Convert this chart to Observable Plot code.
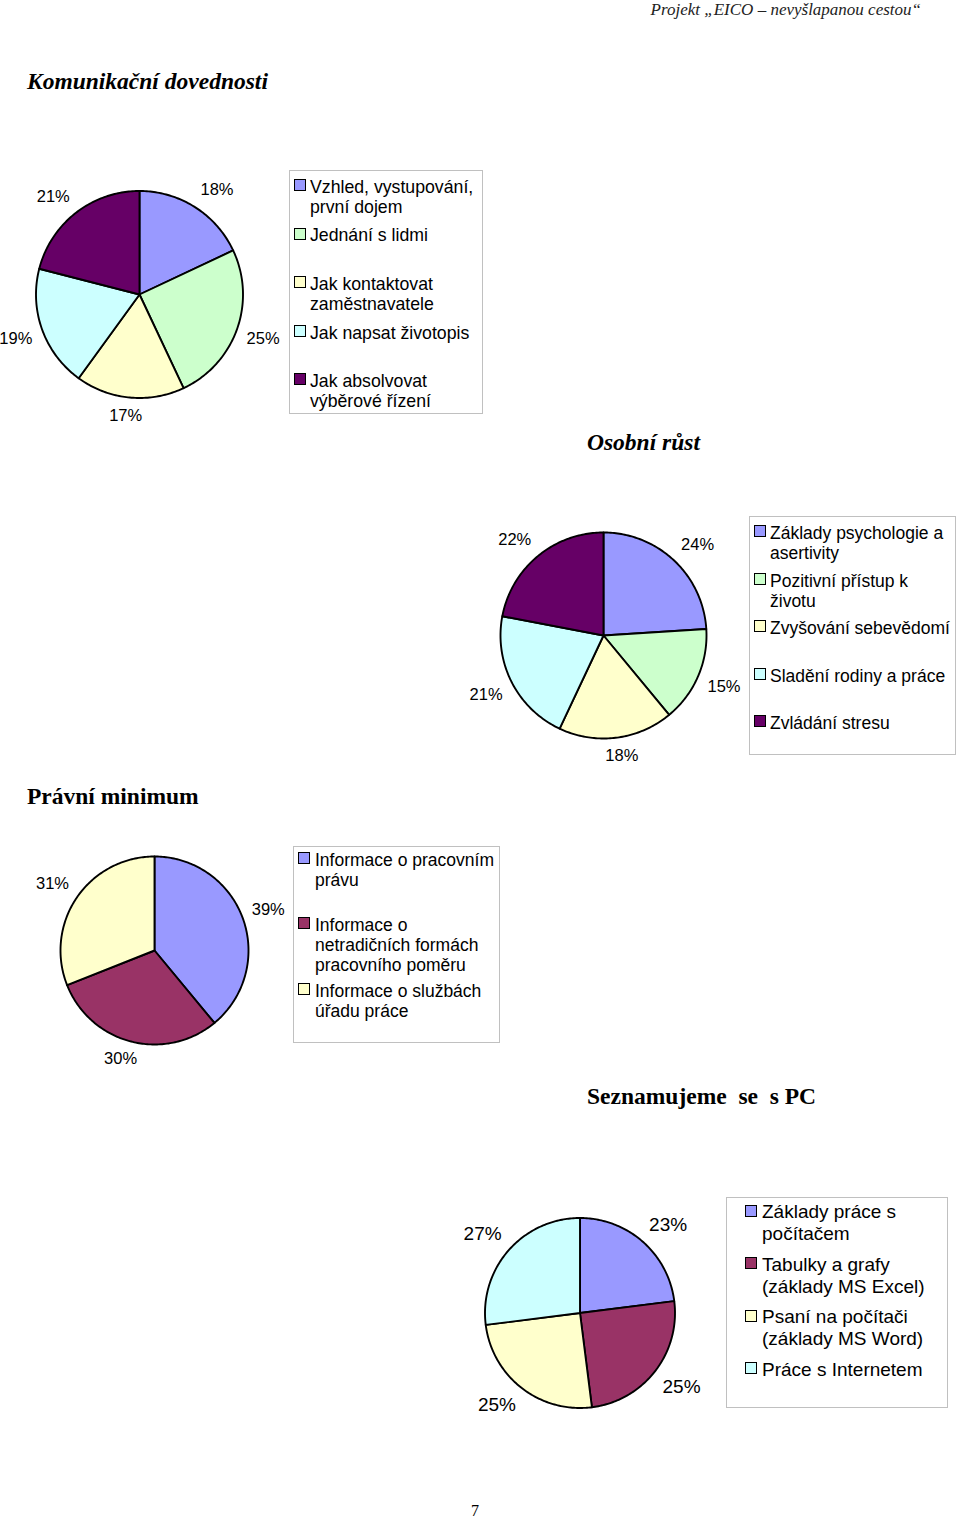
<!DOCTYPE html>
<html><head><meta charset="utf-8">
<script src="https://cdn.jsdelivr.net/npm/d3@7"></script>
<script src="https://cdn.jsdelivr.net/npm/@observablehq/plot@0.6"></script>
<style>
html,body{margin:0;padding:0;background:#fff;}
#page{position:relative;width:960px;height:1518px;overflow:hidden;background:#fff;}
.abs{position:absolute;white-space:pre;line-height:1;}
.serif{font-family:"Liberation Serif","Times New Roman",serif;}
.sans{font-family:"Liberation Sans",Arial,sans-serif;}
.lbox{position:absolute;border:1px solid #c0c0c0;box-sizing:border-box;background:#fff;}
.mk{position:absolute;width:10px;height:10px;border:1.5px solid #000;}
.lt{position:absolute;white-space:pre;font-family:"Liberation Sans",Arial,sans-serif;color:#000;}
</style></head><body><div id="page"></div>
<script>
// Colours (Excel default pie palette)
const BLUE = "#9999FF", GREEN = "#CCFFCC", YELLOW = "#FFFFCC", CYAN = "#CCFFFF", PURPLE = "#660066", MAROON = "#993366";

// Page texts
const headerText = "Projekt \u201EEICO \u2013 nevyšlapanou cestou\u201C";
const pageNumber = "7";

// Chart 1 – Komunikační dovednosti
const komTitle = "Komunikační dovednosti";
const komLabels = ["Vzhled, vystupování,\nprvní dojem", "Jednání s lidmi", "Jak kontaktovat\nzaměstnavatele", "Jak napsat životopis", "Jak absolvovat\nvýběrové řízení"];
const komValues = [18, 25, 17, 19, 21];
const komColors = [BLUE, GREEN, YELLOW, CYAN, PURPLE];

// Chart 2 – Osobní růst
const osoTitle = "Osobní růst";
const osoLabels = ["Základy psychologie a\nasertivity", "Pozitivní přístup k\nživotu", "Zvyšování sebevědomí", "Sladění rodiny a práce", "Zvládání stresu"];
const osoValues = [24, 15, 18, 21, 22];
const osoColors = [BLUE, GREEN, YELLOW, CYAN, PURPLE];

// Chart 3 – Právní minimum
const pravTitle = "Právní minimum";
const pravLabels = ["Informace o pracovním\nprávu", "Informace o\nnetradičních formách\npracovního poměru", "Informace o službách\núřadu práce"];
const pravValues = [39, 30, 31];
const pravColors = [BLUE, MAROON, YELLOW];

// Chart 4 – Seznamujeme se s PC
const pcTitle = "Seznamujeme  se  s PC";
const pcLabels = ["Základy práce s\npočítačem", "Tabulky a grafy\n(základy MS Excel)", "Psaní na počítači\n(základy MS Word)", "Práce s Internetem"];
const pcValues = [23, 25, 25, 27];
const pcColors = [BLUE, MAROON, YELLOW, CYAN];

const page = document.getElementById("page");

function addText(txt, {left, right, baseline, size, cls, weight = "normal", style = "normal", color = "#000"}) {
  const d = document.createElement("div");
  d.className = "abs " + cls;
  d.textContent = txt;
  d.style.fontSize = size + "px";
  d.style.fontWeight = weight;
  d.style.fontStyle = style;
  d.style.color = color;
  d.style.top = (baseline - 0.84 * size) + "px";
  if (left != null) d.style.left = left + "px";
  if (right != null) d.style.right = right + "px";
  page.appendChild(d);
}

const clamp1 = v => Math.max(-1, Math.min(1, v));

function pieChart({labels, values, colors, cx, cy, r, fontSize}) {
  const rows = labels.map((l, i) => ({label: l, value: values[i]}));
  const arcs = d3.pie().sort(null).value(d => d.value)(rows);
  const pts = [];
  for (const a of arcs) {
    const n = Math.max(2, Math.ceil((a.endAngle - a.startAngle) / (Math.PI / 180)));
    pts.push({label: a.data.label, x: 0, y: 0});
    for (let k = 0; k <= n; k++) {
      const t = a.startAngle + (a.endAngle - a.startAngle) * k / n;
      pts.push({label: a.data.label, x: Math.sin(t), y: Math.cos(t)});
    }
    pts.push({label: a.data.label, x: 0, y: 0});
  }
  // Label placed just outside the rim, its box pushed outward (Excel style)
  const hw = fontSize / r, hh = 0.5 * fontSize / r;
  const lab = arcs.map(a => {
    const m = (a.startAngle + a.endAngle) / 2;
    const s = Math.sin(m), c = Math.cos(m);
    return {x: 1.1 * s + hw * clamp1(2 * s), y: 1.1 * c + hh * clamp1(2 * c), text: a.data.value + "%"};
  });
  const size = Math.round(3.4 * r);
  const ext = size / 2 / r;
  const svg = Plot.plot({
    width: size, height: size, margin: 0,
    x: {domain: [-ext, ext], axis: null},
    y: {domain: [-ext, ext], axis: null},
    color: {domain: labels, range: colors},
    style: {background: "transparent", overflow: "visible", maxWidth: "none"},
    marks: [
      Plot.line(pts, {x: "x", y: "y", z: "label", fill: "label", stroke: "#000", strokeWidth: 1.9, strokeLinejoin: "round"}),
      Plot.text(lab, {x: "x", y: "y", text: "text", fontSize, fontFamily: "Liberation Sans, Arial, sans-serif", fill: "#000"})
    ]
  });
  const w = document.createElement("div");
  w.style.position = "absolute";
  w.style.left = (cx - size / 2) + "px";
  w.style.top = (cy - size / 2) + "px";
  w.appendChild(svg);
  page.appendChild(w);
}

function legend({labels, colors, box, firstBaseline, spacing, fontSize, lineHeight, markerLeft, textLeft}) {
  const b = document.createElement("div");
  b.className = "lbox";
  Object.assign(b.style, {left: box[0] + "px", top: box[1] + "px", width: box[2] + "px", height: box[3] + "px"});
  page.appendChild(b);
  const baseOff = (lineHeight - 1.117 * fontSize) / 2 + 0.905 * fontSize;
  labels.forEach((l, i) => {
    const bl = firstBaseline + i * spacing;
    const m = document.createElement("div");
    m.className = "mk";
    Object.assign(m.style, {left: (box[0] + markerLeft) + "px", top: (bl - 14) + "px", background: colors[i]});
    page.appendChild(m);
    const t = document.createElement("div");
    t.className = "lt";
    t.textContent = l;
    Object.assign(t.style, {left: (box[0] + textLeft) + "px", top: (bl - baseOff) + "px", fontSize: fontSize + "px", lineHeight: lineHeight + "px"});
    page.appendChild(t);
  });
}

// Header & footer
addText(headerText, {right: 39, baseline: 15, size: 17, cls: "serif", style: "italic", color: "#222"});
addText(pageNumber, {left: 471, baseline: 1516, size: 16, cls: "serif"});

// Titles
addText(komTitle, {left: 27, baseline: 89.5, size: 23.5, cls: "serif", weight: "bold", style: "italic"});
addText(osoTitle, {left: 587, baseline: 451, size: 23.5, cls: "serif", weight: "bold", style: "italic"});
addText(pravTitle, {left: 27, baseline: 805, size: 23.5, cls: "serif", weight: "bold"});
addText(pcTitle, {left: 587, baseline: 1105, size: 23.5, cls: "serif", weight: "bold"});

// Charts
pieChart({labels: komLabels, values: komValues, colors: komColors, cx: 139, cy: 294, r: 103.5, fontSize: 16.5});
legend({labels: komLabels, colors: komColors, box: [289, 170, 194, 244], firstBaseline: 193, spacing: 48.6, fontSize: 17.7, lineHeight: 20, markerLeft: 5, textLeft: 21});

pieChart({labels: osoLabels, values: osoValues, colors: osoColors, cx: 603, cy: 635, r: 103, fontSize: 16.5});
legend({labels: osoLabels, colors: osoColors, box: [749, 516, 207, 239], firstBaseline: 539, spacing: 47.6, fontSize: 17.5, lineHeight: 20, markerLeft: 5, textLeft: 21});

pieChart({labels: pravLabels, values: pravValues, colors: pravColors, cx: 154, cy: 950, r: 94, fontSize: 16.5});
legend({labels: pravLabels, colors: pravColors, box: [293, 846, 207, 197], firstBaseline: 866, spacing: 65.4, fontSize: 17.5, lineHeight: 20, markerLeft: 5, textLeft: 22});

pieChart({labels: pcLabels, values: pcValues, colors: pcColors, cx: 579, cy: 1312, r: 95, fontSize: 19});
legend({labels: pcLabels, colors: pcColors, box: [726, 1197, 222, 211], firstBaseline: 1219, spacing: 52.4, fontSize: 19, lineHeight: 22, markerLeft: 19, textLeft: 36});
</script></body></html>
